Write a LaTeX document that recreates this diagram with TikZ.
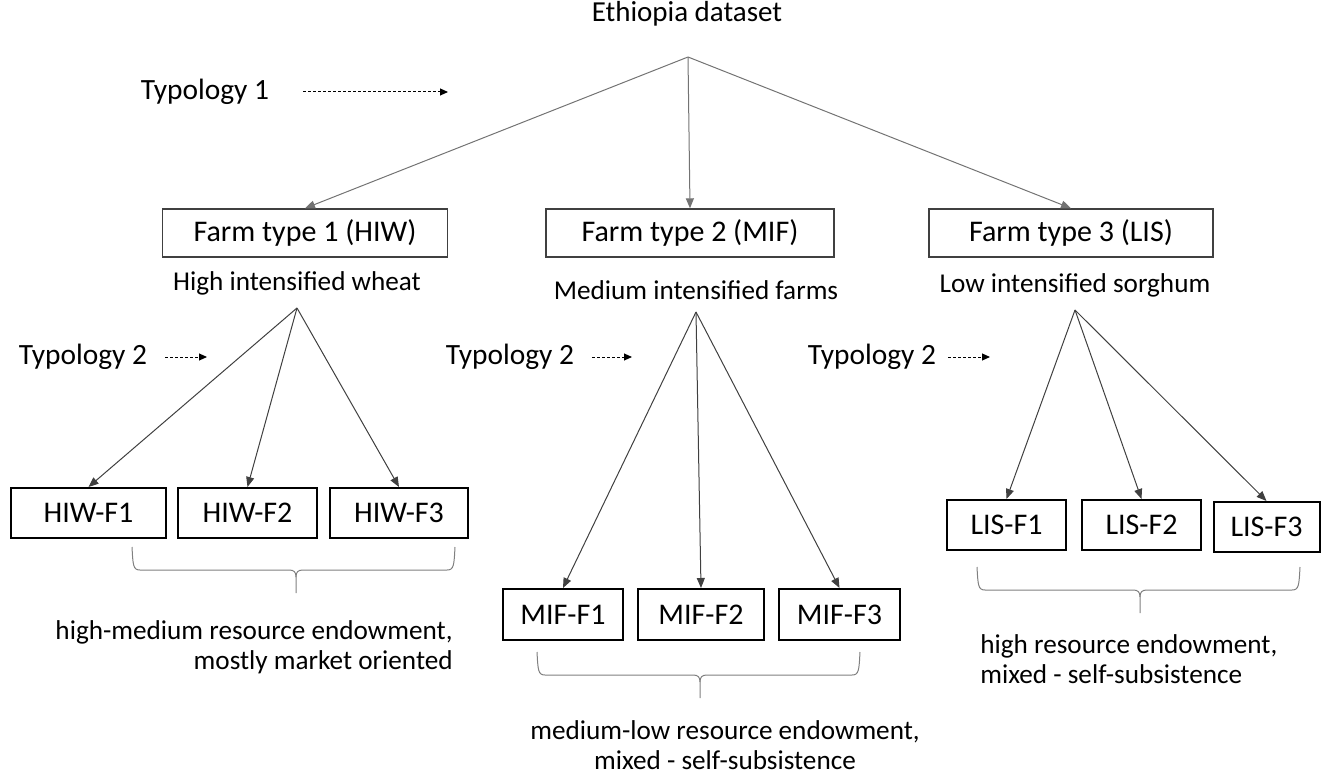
\documentclass[tikz,border=0pt]{standalone}
\usepackage{fontspec}
\setmainfont{Carlito}
\usetikzlibrary{arrows.meta}
\begin{document}
\begin{tikzpicture}[x=0.5pt,y=-0.5pt,
  topbox/.style={draw=black!75, line width=0.7pt, minimum height=24pt, inner sep=0pt, font=\fontsize{15}{18}\selectfont},
  subbox/.style={draw=black, line width=1pt, minimum height=25pt, inner sep=0pt, font=\fontsize{15}{18}\selectfont},
  lbl/.style={inner sep=0pt, font=\fontsize{13.6}{15}\selectfont},
  typ/.style={inner sep=0pt, font=\fontsize{14.7}{17}\selectfont},
  conn/.style={draw=black!55, line width=0.5pt, -{Triangle[length=5pt,width=4pt]}},
  sconn/.style={draw=black!75, line width=0.5pt, -{Triangle[length=5pt,width=4pt]}},
  dasharr/.style={draw=black, dash pattern=on 1.5pt off 1pt, line width=0.5pt, -{Triangle[length=4pt,width=3.5pt]}},
  bracesty/.style={draw=black!50, line width=0.5pt}
]
\useasboundingbox (0,0) rectangle (1322,775);

% brace macro
\newcommand\mybrace[4]{% x1, x2, xc, ytop
  \draw[bracesty] (#1,#4) .. controls ({#1+1},{#4+18}) and ({#1+1},{#4+23}) .. ({#1+8},{#4+23})
    -- ({#3-7},{#4+23}) .. controls ({#3-2},{#4+23}) and (#3,{#4+25}) .. (#3,{#4+30}) -- (#3,{#4+46});
  \draw[bracesty] (#3,{#4+30}) .. controls (#3,{#4+25}) and ({#3+2},{#4+23}) .. ({#3+7},{#4+23})
    -- ({#2-8},{#4+23}) .. controls ({#2-1},{#4+23}) and ({#2-1},{#4+18}) .. (#2,#4);
}

% top
\node[lbl, font=\fontsize{14.5}{16}\selectfont] (eth) at (687,14) {Ethiopia dataset};
\coordinate (apex) at (688,57);

\node[typ] (t1) at (205,92) {Typology 1};
\coordinate (t1s) at (303,92);
\coordinate (t1e) at (448,92);
\draw[dasharr] (t1s) -- (t1e);

\node[topbox, minimum width=142.5pt] (hiw) at (305,233) {Farm type 1 (HIW)};
\node[topbox, minimum width=144pt] (mif) at (690,233) {Farm type 2 (MIF)};
\node[topbox, minimum width=142pt] (lis) at (1071,233) {Farm type 3 (LIS)};

\draw[conn] (apex) -- (hiw.north);
\draw[conn] (apex) -- (mif.north);
\draw[conn] (apex) -- (lis.north);

\node[lbl] (hiwl) at (297,283) {High intensified wheat};
\node[lbl] (mifl) at (696,290) {Medium intensified farms};
\node[lbl] (lisl) at (1075,285) {Low intensified sorghum};
\coordinate (hiwa) at (297,308);
\coordinate (mifa) at (696,312);
\coordinate (lisa) at (1075,310);

% typology 2
\node[typ] (t2a) at (83,357) {Typology 2};
\coordinate (t2as) at (165,357); \coordinate (t2ae) at (207,357);
\draw[dasharr] (t2as) -- (t2ae);
\node[typ] (t2b) at (510,357) {Typology 2};
\coordinate (t2bs) at (592,357); \coordinate (t2be) at (632,357);
\draw[dasharr] (t2bs) -- (t2be);
\node[typ] (t2c) at (872,357) {Typology 2};
\coordinate (t2cs) at (948,357); \coordinate (t2ce) at (990,357);
\draw[dasharr] (t2cs) -- (t2ce);

% sub boxes
\node[subbox, minimum width=77.5pt] (hf1) at (88.5,513) {HIW-F1};
\node[subbox, minimum width=69.5pt] (hf2) at (247.5,513) {HIW-F2};
\node[subbox, minimum width=69pt] (hf3) at (399,513) {HIW-F3};

\node[subbox, minimum width=60pt, minimum height=25.5pt] (mf1) at (563,614.5) {MIF-F1};
\node[subbox, minimum width=63pt, minimum height=25.5pt] (mf2) at (701,614.5) {MIF-F2};
\node[subbox, minimum width=60.5pt, minimum height=25.5pt] (mf3) at (839.5,614.5) {MIF-F3};

\node[subbox, minimum width=59.5pt] (lf1) at (1006.5,525) {LIS-F1};
\node[subbox, minimum width=59.5pt] (lf2) at (1141.5,525) {LIS-F2};
\node[subbox, minimum width=53pt] (lf3) at (1266.5,527) {LIS-F3};

\draw[sconn] (hiwa) -- (hf1.north);
\draw[sconn] (hiwa) -- (hf2.north);
\draw[sconn] (hiwa) -- (hf3.north);
\draw[sconn] (mifa) -- (mf1.north);
\draw[sconn] (mifa) -- (mf2.north);
\draw[sconn] (mifa) -- (mf3.north);
\draw[sconn] (lisa) -- (lf1.north);
\draw[sconn] (lisa) -- (lf2.north);
\draw[sconn] (lisa) -- (lf3.north);

% braces
\mybrace{132}{455}{296}{547}
\mybrace{537}{860}{700}{652}
\mybrace{977}{1300}{1140}{567}

% bottom texts
\node[lbl, align=right, anchor=east] (hiwt) at (453,647) {high-medium resource endowment,\\mostly market oriented};
\node[lbl, align=center] (mift) at (725,745) {medium-low resource endowment,\\mixed - self-subsistence};
\node[lbl, align=left, anchor=west] (list) at (980,659) {high resource endowment,\\mixed - self-subsistence};
\end{tikzpicture}
\end{document}
